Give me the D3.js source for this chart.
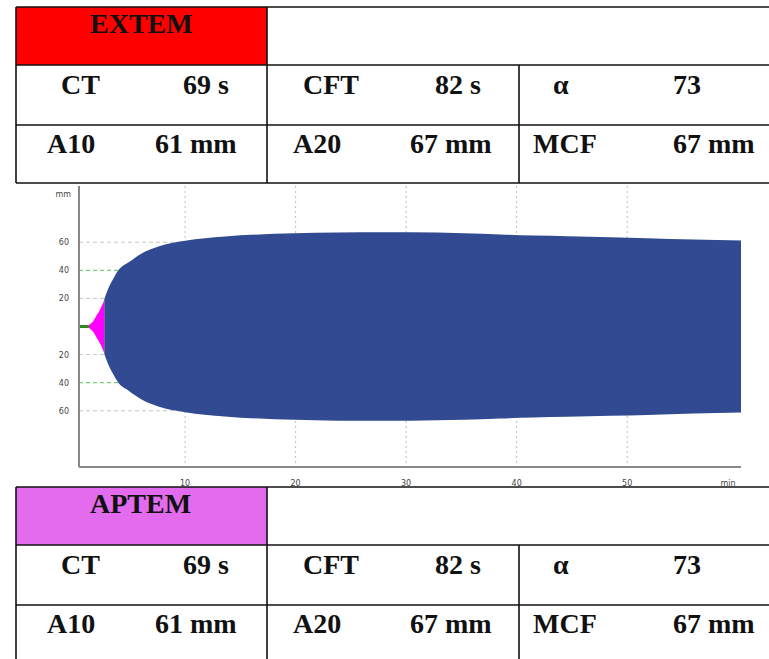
<!DOCTYPE html>
<meta charset="utf-8">
<html>
<head>
  <script src="https://d3js.org/d3.v7.min.js"></script>
  <style>
    body { margin: 0; background: #fff; }
    .cell { font-family: "Liberation Serif", "Times New Roman", serif; font-weight: bold; font-size: 28px; fill: #111; }
    .tick-lbl { font-family: "DejaVu Sans", sans-serif; font-size: 8px; fill: #444; }
  </style>
</head>
<body>
<div id="myKeeper"></div>
<script>
  // ROTEM parameters (same values in both panels)
  const rowLabels2 = ["CT", "69 s", "CFT", "82 s", "α", "73"];
  const rowLabels3 = ["A10", "61 mm", "A20", "67 mm", "MCF", "67 mm"];
  const panels = ["EXTEM", "APTEM"];
  const panelColors = ["#ff0000", "#e36bee"];

  // trace: time (min) and half amplitude (mm)
  const greenTime = [0.4, 1.3];
  const greenAmp  = [1.1, 1.1];
  const pinkTime  = [1.3, 1.7, 2.0, 2.3, 2.69];
  const pinkAmp   = [1.1, 4, 8, 12, 19];
  const blueTime  = [2.69, 3.05, 3.5, 3.96, 4.86, 5.47, 6.07, 7.58, 10, 13.6, 18.1, 21.8, 25.8, 30.4, 35.2, 38.5, 41.5, 44.6, 48.5, 51.8, 56, 60.3];
  const blueAmp   = [19.5, 27, 34, 40, 45.5, 49, 52, 57, 61, 64, 66, 66.7, 67.1, 67, 66.4, 65.5, 64.8, 64.3, 63.6, 62.9, 61.9, 61.2];

  // axis ticks
  const xTicks = [10, 20, 30, 40, 50];
  const yTicks = [20, 40, 60];

  const W = 769, H = 659;
  const svg = d3.select("#myKeeper").append("svg")
      .attr("width", W).attr("height", H);

  // chart scales
  const x = d3.scaleLinear().domain([0.4, 60.3]).range([79, 741]);
  const y = d3.scaleLinear().domain([-100, 100]).range([467, 186]);

  const chart = svg.append("g");

  // grid
  chart.selectAll(".vgrid").data(xTicks).join("line")
    .attr("x1", d => x(d)).attr("x2", d => x(d))
    .attr("y1", y(100)).attr("y2", y(-100))
    .attr("stroke", "#bbb").attr("stroke-dasharray", "2,3");

  const hgrid = yTicks.flatMap(v => [v, -v]);
  chart.selectAll(".hgrid").data(hgrid).join("line")
    .attr("x1", x(0.4)).attr("x2", x(60.3))
    .attr("y1", d => y(d)).attr("y2", d => y(d))
    .attr("stroke", d => Math.abs(d) === 40 ? "#55c455" : "#c4c4c4")
    .attr("stroke-dasharray", "4,3");

  // trace areas
  const area = d3.area()
    .x(d => x(d[0]))
    .y0(d => y(-d[1]))
    .y1(d => y(d[1]))
    .curve(d3.curveMonotoneX);

  const zip = (a, b) => a.map((v, i) => [v, b[i]]);
  chart.append("path").datum(zip(greenTime, greenAmp)).attr("d", area).attr("fill", "#2f8a1f");
  chart.append("path").datum(zip(pinkTime, pinkAmp)).attr("d", area).attr("fill", "#ff00ff");
  chart.append("path").datum(zip(blueTime, blueAmp)).attr("d", area).attr("fill", "#314a91");

  // axes lines
  chart.append("line").attr("x1", x(0.4)).attr("x2", x(0.4))
    .attr("y1", y(100)).attr("y2", y(-100))
    .attr("stroke", "#888").attr("stroke-width", 2);
  chart.append("line").attr("x1", x(0.4)).attr("x2", x(60.3))
    .attr("y1", y(-100)).attr("y2", y(-100))
    .attr("stroke", "#888").attr("stroke-width", 2);

  // y labels
  chart.selectAll(".ylbl").data(hgrid).join("text")
    .attr("class", "tick-lbl")
    .attr("x", 69).attr("y", d => y(d) + 3)
    .attr("text-anchor", "end")
    .text(d => Math.abs(d));
  chart.append("text").attr("class", "tick-lbl")
    .attr("x", 71).attr("y", 197).attr("text-anchor", "end")
    .attr("font-size", 7).text("mm");

  // x labels
  chart.selectAll(".xlbl").data(xTicks).join("text")
    .attr("class", "tick-lbl")
    .attr("x", d => x(d)).attr("y", 486)
    .attr("text-anchor", "middle")
    .text(d => d);
  chart.append("text").attr("class", "tick-lbl")
    .attr("x", 728).attr("y", 486).attr("text-anchor", "middle").text("min");

  // tables
  const textX2 = [61, 183, 303, 435, 553, 673];
  const textX3 = [47, 155, 293, 410, 533, 673];
  const rowTop = [7, 487];

  panels.forEach((name, p) => {
    const top = rowTop[p];
    const g = svg.append("g");
    g.append("rect").attr("x", 16).attr("y", top).attr("width", W).attr("height", 176)
      .attr("fill", "#fff");
    g.append("rect").attr("x", 16).attr("y", top).attr("width", 251).attr("height", 58)
      .attr("fill", panelColors[p]);

    const lines = [
      [16, top, W + 5, top],
      [16, top + 58, W + 5, top + 58],
      [16, top + 118, W + 5, top + 118],
      [16, top + 176, W + 5, top + 176],
      [16, top, 16, top + 176],
      [267, top, 267, top + 176],
      [519, top + 58, 519, top + 176]
    ];
    g.selectAll("line").data(lines).join("line")
      .attr("x1", d => d[0]).attr("y1", d => d[1])
      .attr("x2", d => d[2]).attr("y2", d => d[3])
      .attr("stroke", "#111").attr("stroke-width", 1.6);

    g.append("text").attr("class", "cell").attr("x", 90).attr("y", top + 26).text(name);
    g.selectAll(".r2").data(rowLabels2).join("text").attr("class", "cell")
      .attr("x", (d, i) => textX2[i]).attr("y", top + 87).text(d => d);
    g.selectAll(".r3").data(rowLabels3).join("text").attr("class", "cell")
      .attr("x", (d, i) => textX3[i]).attr("y", top + 146).text(d => d);
  });
</script>
</body>
</html>
